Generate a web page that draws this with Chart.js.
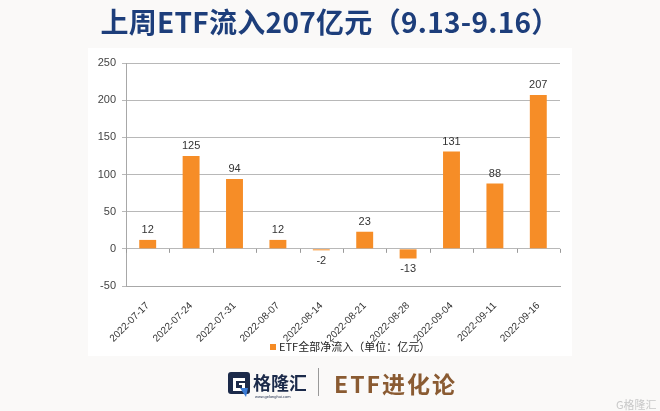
<!DOCTYPE html>
<html><head><meta charset="utf-8">
<script src="https://cdn.jsdelivr.net/npm/chart.js@4"></script>
<style>
html,body{margin:0;padding:0;}
body{width:660px;height:411px;position:relative;overflow:hidden;background:#faf9f8;font-family:"Noto Sans CJK SC","Noto Sans",sans-serif;}
#panel{position:absolute;left:88px;top:48px;width:484px;height:308px;background:#fff;}
#wrap{position:absolute;left:0;top:0;width:660px;height:411px;}
#title{position:absolute;left:0;top:1px;width:660px;text-align:center;font-size:28px;font-weight:bold;color:#1d3e7b;letter-spacing:0.3px;}
#legend{position:absolute;left:270px;top:338px;font-size:11px;color:#222;white-space:nowrap;}
#legend span.box{display:inline-block;width:6px;height:6px;background:#f58b25;margin-right:3px;vertical-align:1px;}
#logo{position:absolute;left:226px;top:370px;width:80px;height:34px;}
#divider{position:absolute;left:318px;top:368px;width:1px;height:28px;background:#999;}
#brand{position:absolute;left:334px;top:366px;font-size:23px;font-weight:bold;color:#8a5b32;letter-spacing:2px;}
#wm{position:absolute;left:616px;top:396px;font-size:11px;color:#c8c8c8;}
</style></head>
<body>
<div id="panel"></div>
<div id="wrap"><canvas id="c" width="660" height="411"></canvas></div>
<div id="title">上周ETF流入207亿元（9.13-9.16）</div>
<div id="legend"><span class="box"></span>ETF全部净流入（单位：亿元）</div>
<div id="logo">
<svg width="80" height="34" viewBox="0 0 80 34">
<rect x="2" y="2" width="22" height="22" rx="3" fill="#1b2a4a"/>
<path d="M7 8 H19 V11 H10 V18 H16 V15 H13 V13 H19 V21 H7 Z" fill="#fff"/>
<path d="M14 18 L22 18 L20 27 Z" fill="#3a7bd5"/>
<text x="27" y="20" font-size="18" font-weight="bold" fill="#1b2a4a" font-family="Noto Sans CJK SC">格隆汇</text>
<text x="29" y="28" font-size="4" fill="#1b2a4a" font-family="Liberation Sans">www.gelonghui.com</text>
</svg>
</div>
<div id="divider"></div>
<div id="brand">ETF进化论</div>
<div id="wm">G格隆汇</div>
<script>
const categories = ["2022-07-17","2022-07-24","2022-07-31","2022-08-07","2022-08-14","2022-08-21","2022-08-28","2022-09-04","2022-09-11","2022-09-16"];
const netInflow = [12,125,94,12,-2,23,-13,131,88,207];
const yTicks = [-50,0,50,100,150,200,250];
const seriesName = "ETF全部净流入（单位：亿元）";

const labelPlugin = {
  id:'labels',
  afterDatasetsDraw(chart){
    const ctx = chart.ctx;
    const meta = chart.getDatasetMeta(0);
    ctx.save();
    ctx.font = '11px "Liberation Sans", sans-serif';
    ctx.fillStyle = '#333';
    ctx.textAlign = 'center';
    meta.data.forEach((el,i)=>{
      const v = netInflow[i];
      if (v >= 0){ ctx.textBaseline='bottom'; ctx.fillText(String(v), el.x, el.y-4); }
      else { ctx.textBaseline='top'; ctx.fillText(String(v), el.x, el.y+5); }
    });
    const xs = chart.scales.x, ys = chart.scales.y;
    const y0 = ys.getPixelForValue(0);
    ctx.strokeStyle = '#9a9a9a';
    ctx.lineWidth = 1;
    ctx.beginPath();
    for (let i=0;i<=categories.length;i++){
      let bx;
      if (i===0) bx = chart.chartArea.left;
      else if (i===categories.length) bx = chart.chartArea.right;
      else bx = (xs.getPixelForValue(i-1)+xs.getPixelForValue(i))/2;
      bx = Math.round(bx)+0.5;
      ctx.moveTo(bx, y0); ctx.lineTo(bx, y0+4);
    }
    ctx.stroke();
    ctx.restore();
  }
};

new Chart(document.getElementById('c'), {
  type:'bar',
  data:{labels:categories, datasets:[{label:seriesName, data:netInflow, backgroundColor:'#f68d27', barPercentage:0.39, categoryPercentage:1}]},
  options:{
    responsive:false, animation:false,
    layout:{padding:{top:63,right:100,left:0,bottom:0}},
    plugins:{legend:{display:false}, tooltip:{enabled:false}},
    scales:{
      x:{
        offset:true,
        grid:{display:false},
        border:{display:true,color:'#a8a8a8'},
        ticks:{maxRotation:45,minRotation:45,color:'#333',font:{size:10,family:'"Liberation Sans", sans-serif'},padding:6},
        afterFit(s){ s.height = 411-286; }
      },
      y:{
        min:-50,max:250,
        afterBuildTicks(s){ s.ticks = yTicks.map(v=>({value:v})); },
        grid:{color:'#b8b8b8',tickLength:4,drawTicks:true},
        border:{display:true,color:'#a8a8a8'},
        ticks:{color:'#444',font:{size:11,family:'"Liberation Sans", sans-serif'},padding:6},
        afterFit(s){ s.width = 126; }
      }
    }
  },
  plugins:[labelPlugin]
});
</script>
</body></html>
